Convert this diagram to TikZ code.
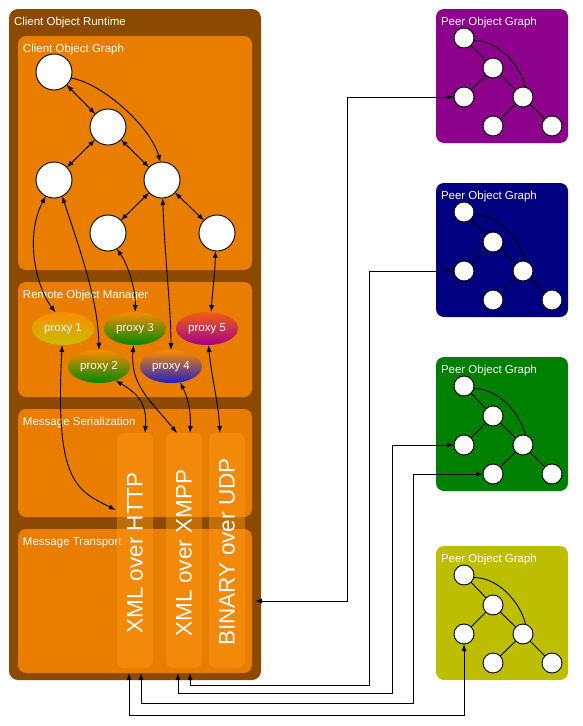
\documentclass[tikz,border=0pt]{standalone}
\usepackage{fontspec}
\setmainfont{Liberation Sans}
\usetikzlibrary{arrows.meta,shapes.geometric,calc}
\definecolor{rtbrown}{RGB}{139,74,0}
\definecolor{boxorange}{RGB}{232,125,0}
\definecolor{collight}{RGB}{255,152,20}
\definecolor{peerpurple}{RGB}{140,0,140}
\definecolor{peernavy}{RGB}{0,0,128}
\definecolor{peergreen}{RGB}{0,128,0}
\definecolor{peerolive}{RGB}{190,190,0}
\definecolor{proxtop}{RGB}{248,140,0}
\definecolor{proxred}{RGB}{240,95,20}
\definecolor{proxyellow}{RGB}{200,190,0}
\definecolor{proxgreen}{RGB}{0,135,0}
\definecolor{proxblue}{RGB}{30,30,200}
\definecolor{proxmag}{RGB}{165,0,140}
\begin{document}
\begin{tikzpicture}[x=1pt,y=-1pt,
  every node/.style={inner sep=0pt, outer sep=0pt},
  box/.style={fill=boxorange, rounded corners=8pt, minimum width=234pt},
  title/.style={anchor=base west, text=white, font=\fontsize{11.5}{13}\selectfont},
  colbox/.style={fill=collight, fill opacity=0.45, rounded corners=7pt, minimum width=36pt, minimum height=235pt},
  coltext/.style={text=white, rotate=90, font=\fontsize{22.5}{26}\selectfont},
  cnode/.style={circle, draw=black, line width=0.9pt, fill=white, minimum size=36pt},
  pnode/.style={circle, draw=black, line width=0.9pt, fill=white, minimum size=20pt},
  proxy/.style={ellipse, minimum width=62pt, minimum height=33pt, text=white, font=\fontsize{11.5}{13}\selectfont},
  link/.style={line width=0.9pt, {Latex[length=7pt,width=5pt]}-{Latex[length=7pt,width=5pt]}},
  onearrow/.style={line width=0.9pt, -{Latex[length=7pt,width=5pt]}},
  peeredge/.style={line width=0.9pt},
  peerbox/.style={rounded corners=8pt, minimum width=132pt, minimum height=134pt},
]
\useasboundingbox (0,0) rectangle (583,726);

% client runtime and layers
\node[fill=rtbrown, rounded corners=9pt, minimum width=252pt, minimum height=671pt] (rt) at (135,344.5) {};
\node[title] at (14,25.5) {Client Object Runtime};
\node[box, minimum height=234pt] (cog) at (135,153) {};
\node[title] at (23,52) {Client Object Graph};
\node[box, minimum height=115pt] (rom) at (135,339.5) {};
\node[title] at (23,298) {Remote Object Manager};
\node[box, minimum height=108pt] (ms) at (135,463) {};
\node[title] at (23,425) {Message Serialization};
\node[box, minimum height=144pt] (mt) at (135,601) {};
\node[title] at (23,545) {Message Transport};

% transport columns
\node[colbox] (col1) at (135,550.5) {};
\node[colbox] (col2) at (184,550.5) {};
\node[colbox] (col3) at (227,550.5) {};
\node[coltext] (c1t) at (135,553) {XML over HTTP};
\node[coltext] (c2t) at (184,553) {XML over XMPP};
\node[coltext] (c3t) at (227,552) {BINARY over UDP};

% connector end points on the columns / transport
\coordinate (t1) at (145,433);
\coordinate (t2) at (177,433);
\coordinate (t3) at (190,433);
\coordinate (t4) at (220,433);
\coordinate (l1) at (116,510);
\coordinate (b1) at (129,673);
\coordinate (b2) at (141,673);
\coordinate (b3) at (178,673);
\coordinate (b4) at (190,673);
\coordinate (mtr) at (255,601);

% client object graph
\node[cnode] (n1) at (54,72) {};
\node[cnode] (n2) at (108,127) {};
\node[cnode] (n3) at (54,180) {};
\node[cnode] (n4) at (162,180) {};
\node[cnode] (n5) at (108,233) {};
\node[cnode] (n6) at (217,233) {};
\draw[link] (n1) -- (n2);
\draw[link] (n2) -- (n3);
\draw[link] (n2) -- (n4);
\draw[link] (n4) -- (n5);
\draw[link] (n4) -- (n6);
\draw[onearrow] (n1.-20) .. controls (100,82) and (150,125) .. (n4.95);

% proxies
\node[proxy, top color=proxtop, bottom color=proxyellow] (p1) at (63,328.5) {proxy 1};
\node[proxy, top color=proxtop, bottom color=proxgreen] (p3) at (135,328.5) {proxy 3};
\node[proxy, top color=proxred, bottom color=proxmag] (p5) at (207,328.5) {proxy 5};
\node[proxy, top color=proxtop, bottom color=proxgreen] (p2) at (99,366.5) {proxy 2};
\node[proxy, top color=proxtop, bottom color=proxblue] (p4) at (171,366.5) {proxy 4};

% graph <-> proxies
\draw[link] (n3.-117) .. controls (25,235) and (35,285) .. (p1.115);
\draw[link] (n3.-63) .. controls (80,250) and (98,300) .. (p2.north);
\draw[link] (n5.-61) .. controls (128,265) and (136,290) .. (p3.north);
\draw[link] (n4.-88) .. controls (165,260) and (171,310) .. (p4.north);
\draw[link] (n6.-95) .. controls (215,275) and (212,295) .. (p5.75);

% proxies <-> serialization columns
\draw[link] (p1.-93) .. controls (55,480) and (75,490) .. (l1);
\draw[link] (p2.-40) .. controls (140,395) and (147,405) .. (t1);
\draw[link] (p3.-95) .. controls (130,385) and (150,400) .. (t2);
\draw[link] (p4.-60) .. controls (189,400) and (191,415) .. (t3);
\draw[link] (p5.-85) .. controls (212,380) and (218,400) .. (t4);

% peer object graphs
\foreach \i/\t/\c in {1/9/peerpurple,2/183/peernavy,3/357/peergreen,4/546/peerolive}{
  \node[peerbox, fill=\c] (pg\i) at (502,{\t+67}) {};
  \node[title] at (441,{\t+16}) {Peer Object Graph};
  \node[pnode] (pa\i) at (464,{\t+29}) {};
  \node[pnode] (pb\i) at (493,{\t+59}) {};
  \node[pnode] (pc\i) at (464,{\t+88}) {};
  \node[pnode] (pd\i) at (523,{\t+88}) {};
  \node[pnode] (pe\i) at (493,{\t+117}) {};
  \node[pnode] (pf\i) at (552,{\t+117}) {};
  \draw[peeredge] (pa\i) -- (pb\i);
  \draw[peeredge] (pb\i) -- (pc\i);
  \draw[peeredge] (pb\i) -- (pd\i);
  \draw[peeredge] (pd\i) -- (pe\i);
  \draw[peeredge] (pd\i) -- (pf\i);
  \draw[peeredge] (pa\i.-15) .. controls (497,{\t+31}) and (520,{\t+55}) .. (pd\i.75);
}

% transport <-> peers
\draw[link] (mtr) -- (347,601) |- (pc1.west);
\draw[link] (pc2.west) -| (369,685) -| (b4);
\draw[link] (pc3.west) -| (392,693) -| (b3);
\draw[link] (pe3.west) -| (413,703) -| (b2);
\draw[link] (pc4.south) -- (464,715) -| (b1);
\end{tikzpicture}
\end{document}
